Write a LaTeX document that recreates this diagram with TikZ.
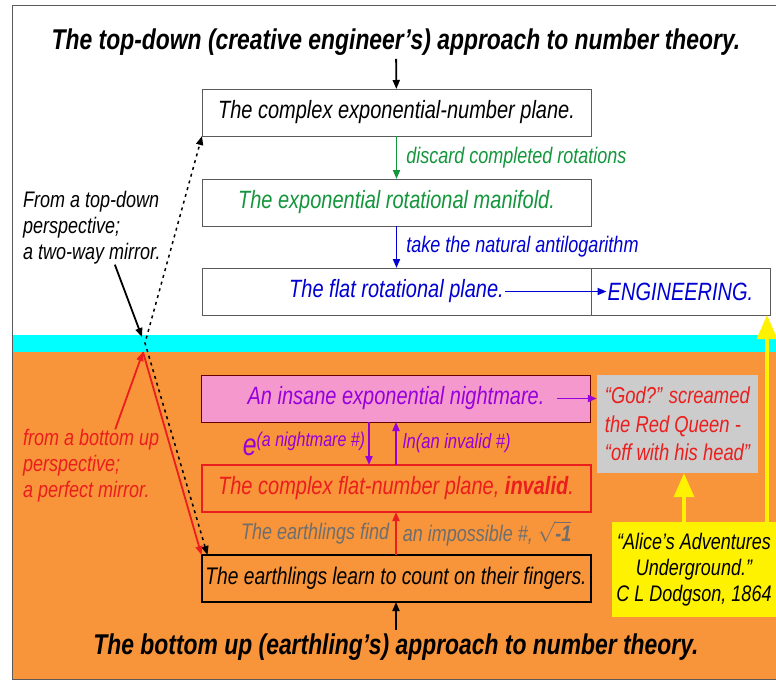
\documentclass[tikz,border=0pt]{standalone}
\usepackage{amsmath}
\usepackage{fontspec}
\setmainfont{Liberation Sans}[FakeStretch=0.8]
\usetikzlibrary{arrows.meta,positioning,calc}
\definecolor{earth}{RGB}{248,148,58}
\definecolor{sea}{RGB}{0,255,255}
\definecolor{nightpink}{RGB}{245,152,205}
\definecolor{queengray}{RGB}{204,204,204}
\definecolor{mgreen}{RGB}{20,150,60}
\definecolor{mblue}{RGB}{0,0,210}
\definecolor{mpurple}{RGB}{150,0,220}
\definecolor{mred}{RGB}{235,30,30}
\definecolor{mgray}{RGB}{110,110,110}
\definecolor{boxline}{RGB}{90,90,90}
\begin{document}
\begin{tikzpicture}[x=1pt, y=-1pt, >={Triangle[length=9pt,width=7pt]},
  box/.style={draw=boxline, line width=1pt, minimum width=389pt, minimum height=47pt, inner sep=0pt, outer sep=0pt},
  boxtxt/.style={inner sep=2pt, font=\fontsize{25}{30}\selectfont\itshape},
  title/.style={font=\fontsize{28.6}{32}\selectfont\bfseries\itshape},
  lbl/.style={inner sep=0pt, font=\fontsize{22.5}{26}\selectfont\itshape},
  side/.style={inner sep=0pt, align=left, anchor=west, font=\fontsize{22.5}{26}\selectfont\itshape},
  arr/.style={->, line width=1.8pt},
  yarr/.style={-{Triangle[length=24pt,width=20pt]}, yellow, line width=3.5pt}]
% background: sky, sea level, earth
\useasboundingbox (0,0) rectangle (776,681);
\fill[white] (0,0) rectangle (776,681);
\fill[earth] (12,352) rectangle (776,679);
\fill[sea] (12,335) rectangle (776,352);
\draw[boxline, line width=0.8pt] (12,5) rectangle (776,679);

% top-down column
\node[title] (top) at (396,42) {The top-down (creative engineer’s) approach to number theory.};
\node[box] (cplx) at (396.5,112.5) {};
\node[boxtxt] (cplxtxt) at (cplx) {The complex exponential-number plane.};
\node[box, below=43pt of cplx] (manif) {};
\node[boxtxt, text=mgreen] (maniftxt) at (manif) {The exponential rotational manifold.};
\node[box, below=42pt of manif] (flat) {};
\node[box, right=0pt of flat, minimum width=179pt] (eng) {};
\node[boxtxt, text=mblue, inner sep=1pt] (flattxt) at (flat) {The flat rotational plane.};
\node[boxtxt, text=mblue, inner sep=1pt] (engtxt) at (eng) {ENGINEERING.};

\draw[arr] (top) -- (cplx);
\draw[arr, mgreen] (cplx) -- node[lbl, right=9pt, text=mgreen] {discard completed rotations} (manif);
\draw[arr, mblue] (manif) -- node[lbl, right=9pt, text=mblue] {take the natural antilogarithm} (flat);
\draw[arr, mblue] (flattxt.east) -- (flattxt.east -| engtxt.west);

% bottom-up column
\node[box, draw=black!60!red, fill=nightpink] (night) at (396,398.5) {};
\node[boxtxt, text=mpurple, inner sep=1pt] (nighttxt) at (night) {An insane exponential nightmare.};
\node[box, draw=mred, line width=2pt, below=43pt of night] (invalid) {};
\node[boxtxt, text=mred] (invalidtxt) at (invalid) {The complex flat-number plane, \textbf{invalid}.};
\node[box, draw=black, line width=2pt, below=43pt of invalid] (fingers) {};
\node[boxtxt, font=\fontsize{24}{28}\selectfont\itshape] (fingerstxt) at (fingers) {The earthlings learn to count on their fingers.};
\node[title] (bot) at (396,647) {The bottom up (earthling’s) approach to number theory.};

\draw[arr, mpurple] ([xshift=-27pt]night.south) -- node[left=3pt, text=mpurple, inner sep=0pt] {{\fontsize{31}{30}\selectfont\itshape e}\raisebox{9pt}{\fontsize{20}{22}\selectfont\itshape (a nightmare \#)}} ([xshift=-27pt]invalid.north);
\draw[arr, mpurple] (invalid) -- node[lbl, right=6pt, text=mpurple, font=\fontsize{20.7}{24}\selectfont\itshape] {ln(an invalid \#)} (night);
\draw[arr, mred] (fingers) -- node[lbl, left=6pt, text=mgray] {The earthlings find} node[lbl, right=6pt, text=mgray] {an impossible \#, \(\sqrt{\text{\bfseries -1}}\)} (invalid);
\draw[arr] (bot) -- (fingers);

% the Red Queen and the source
\node[fill=queengray, minimum width=161pt, minimum height=98pt, inner sep=3pt, align=left, text=mred,
  font=\fontsize{23}{28.5}\selectfont\itshape] (queen) at (677.5,424) {“God?” screamed\\the Red Queen -\\“off with his head”};
\node[fill=yellow, minimum width=164pt, minimum height=95pt, inner sep=2pt, align=center,
  font=\fontsize{22.5}{26}\selectfont\itshape] (alice) at (694,569.5) {“Alice’s Adventures\\Underground.”\\C L Dodgson, 1864};
\draw[arr, mpurple] ([xshift=11pt]nighttxt.east) -- (nighttxt.east -| queen.west);
\coordinate (aliceleft) at ([xshift=-10pt]alice.north);
\coordinate (aliceright) at ([xshift=73pt]alice.north);
\draw[yarr] (aliceleft) -- (aliceleft |- queen.south);
\draw[yarr] (aliceright) -- (aliceright |- eng.south);

% the mirror at sea level
\coordinate (mirrorup) at (142,337);
\coordinate (mirror) at (145,343);
\coordinate (mirrorlow) at (143,352);
\node[side] (twoway) at (23,228) {From a top-down\\perspective;\\a two-way mirror.};
\node[side, text=mred] (bottomup) at (23,466) {from a bottom up\\perspective;\\a perfect mirror.};
\draw[<->, line width=1.5pt, dash pattern=on 3pt off 4pt] ([xshift=6pt]fingers.north west) -- (mirror) -- (cplx.south west);
\draw[arr] ([xshift=23pt]twoway.south) -- (mirrorup);
\draw[arr, mred] ([xshift=24pt]bottomup.north) -- (mirrorlow);
\draw[arr, mred] (mirrorlow) -- (fingers.north west);
\end{tikzpicture}
\end{document}
